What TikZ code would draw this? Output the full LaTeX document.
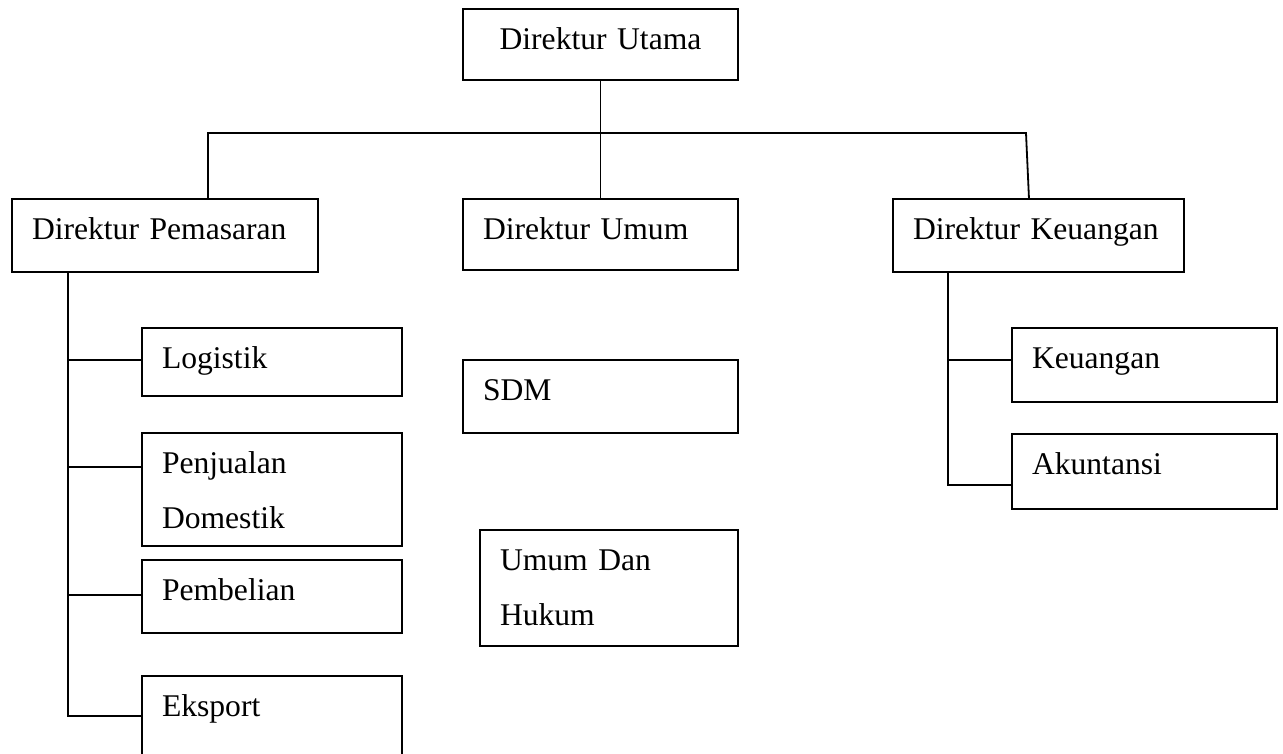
\documentclass[tikz,border=0pt]{standalone}
\usepackage{fontspec}
\setmainfont{Liberation Serif}

\begin{document}
\begin{tikzpicture}
[x=1pt,y=-1pt,
 kotak/.style 2 args={draw, line width=1.8pt, outer sep=0pt, anchor=north west,
   inner xsep=20pt, inner ysep=0pt, align=left, text width=#1pt,
   text height=40pt, text depth=#2pt, font=\fontsize{31.6}{55}\selectfont},
 garis/.style={line width=1.8pt}]
\useasboundingbox (0,0) rectangle (1283,753);

% direksi
\node[kotak={235}{31}, align=center] (utama) at (463,9) {Direktur Utama};
\node[kotak={266}{33}] (pem)  at (12,199)  {Direktur Pemasaran};
\node[kotak={235}{31}] (dumum) at (463,199) {Direktur Umum};
\node[kotak={251}{33}] (dkeu) at (893,199) {Direktur Keuangan};

% bagian
\node[kotak={220}{28}] (logistik)  at (142,328) {Logistik};
\node[kotak={220}{73}] (penjualan) at (142,433) {Penjualan\\Domestik};
\node[kotak={220}{33}] (pembelian) at (142,560) {Pembelian};
\node[kotak={220}{50}] (eksport)   at (142,676) {Eksport};
\node[kotak={235}{33}] (sdm)       at (463,360) {SDM};
\node[kotak={218}{76}] (hukum)     at (480,530) {Umum Dan\\Hukum};
\node[kotak={225}{34}] (keu)       at (1012,328) {Keuangan};
\node[kotak={225}{35}] (akuntansi) at (1012,434) {Akuntansi};

% garis
\coordinate (kiri) at (208,133);
\coordinate (kanan) at (1026,133);
\coordinate (pbus) at (68,0);
\coordinate (kbus) at (948,0);
\draw[garis] (utama.south) -- (dumum.north);
\draw[garis] (kiri |- pem.north) -- (kiri) -- (kanan) -- ([xshift=3pt]kanan |- dkeu.north);
\foreach \n/\d in {logistik/32,penjualan/34,pembelian/35,eksport/40}
  \draw[garis] (pbus |- pem.south) |- ([yshift=-\d pt]\n.north west);
\foreach \n/\d in {keu/32,akuntansi/51}
  \draw[garis] (kbus |- dkeu.south) |- ([yshift=-\d pt]\n.north west);
\end{tikzpicture}
\end{document}
